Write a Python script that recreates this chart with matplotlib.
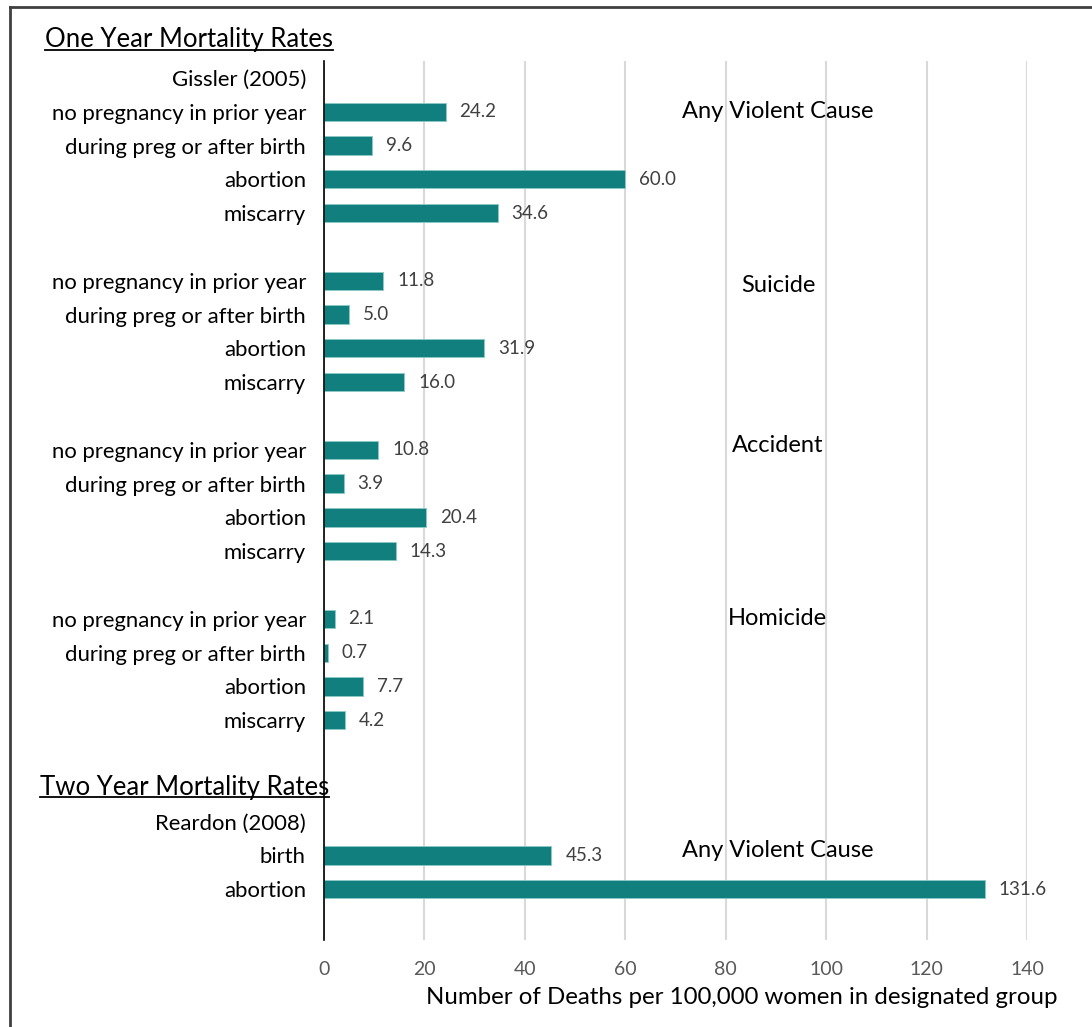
import matplotlib
matplotlib.use('Agg')
import matplotlib.pyplot as plt
from matplotlib.lines import Line2D

plt.rcParams['font.family'] = ['Lato', 'DejaVu Sans']

# rows from top to bottom, '' = empty row
row_labels = ['Gissler (2005)',
              'no pregnancy in prior year', 'during preg or after birth', 'abortion', 'miscarry', '',
              'no pregnancy in prior year', 'during preg or after birth', 'abortion', 'miscarry', '',
              'no pregnancy in prior year', 'during preg or after birth', 'abortion', 'miscarry', '',
              'no pregnancy in prior year', 'during preg or after birth', 'abortion', 'miscarry', '',
              '', 'Reardon (2008)', 'birth', 'abortion', '']

violent = [24.2, 9.6, 60.0, 34.6]
suicide = [11.8, 5.0, 31.9, 16.0]
accident = [10.8, 3.9, 20.4, 14.3]
homicide = [2.1, 0.7, 7.7, 4.2]
two_year = [45.3, 131.6]

group_names = ['Any Violent Cause', 'Suicide', 'Accident', 'Homicide', 'Any Violent Cause']
group_rows = [0.98, 6.15, 10.88, 16.0, 22.85]

bar_rows = [1, 2, 3, 4, 6, 7, 8, 9, 11, 12, 13, 14, 16, 17, 18, 19, 23, 24]
bar_vals = violent + suicide + accident + homicide + two_year

fig = plt.figure(figsize=(10.92, 10.27), dpi=100)
ax = fig.add_axes([324/1092, 1 - 940/1027, (1027-324)/1092, (940-61)/1027])

ax.barh(bar_rows, bar_vals, height=0.54, color='#117f7d', edgecolor='#8cc9c6', linewidth=0.6, zorder=3)
for r, v in zip(bar_rows, bar_vals):
    ax.annotate('%.1f' % v, (v, r), xytext=(10, 0), textcoords='offset points',
                va='center', ha='left', fontsize=13.5, color='#404040')

for name, r in zip(group_names, group_rows):
    ax.text(90.4, r, name, ha='center', va='center', fontsize=17, color='black')

ax.set_xlim(0, 140)
ax.set_ylim(len(row_labels) - 0.5, -0.5)
ax.set_xticks(range(0, 141, 20))
ax.set_yticks(range(len(row_labels)))
ax.set_yticklabels(row_labels, fontsize=15.9)
ax.tick_params(axis='y', length=0, pad=13)
ax.tick_params(axis='x', length=0, pad=15, labelsize=14, labelcolor='#595959')
ax.grid(axis='x', color='#d9d9d9', linewidth=1.5, zorder=0)
ax.set_axisbelow(True)
for s in ['top', 'right', 'bottom']:
    ax.spines[s].set_visible(False)
ax.spines['left'].set_linewidth(1.2)
ax.spines['left'].set_zorder(4)

fig.text(1058/1092, 1 - 998/1027, 'Number of Deaths per 100,000 women in designated group',
         ha='right', va='center', fontsize=17.3)

t1 = fig.text(45/1092, 1 - 40/1027, 'One Year Mortality Rates', ha='left', va='center', fontsize=18.5)
t2 = fig.text(40/1092, 1 - 787/1027, 'Two Year Mortality Rates', ha='left', va='center', fontsize=18.5)

# underline the two section titles
fig.canvas.draw()
for t in [t1, t2]:
    bb = t.get_window_extent().transformed(fig.transFigure.inverted())
    y = bb.y0 + 0.1 * (bb.y1 - bb.y0)
    fig.add_artist(Line2D([bb.x0, bb.x1], [y, y], color='black', linewidth=1.3))

# frame around the chart
fig.add_artist(Line2D([10/1092, 10/1092], [0, 1 - 7/1027], color='#404040', linewidth=2))
fig.add_artist(Line2D([10/1092, 1], [1 - 7/1027, 1 - 7/1027], color='#404040', linewidth=2))

fig.savefig('out.png', dpi=100)
